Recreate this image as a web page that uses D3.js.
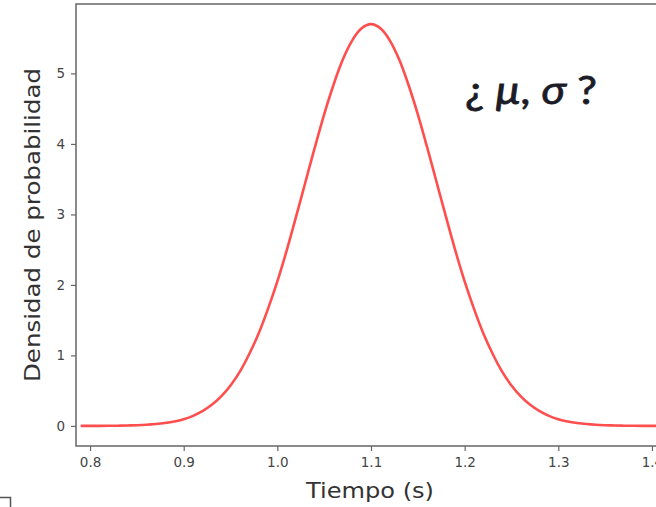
<!DOCTYPE html>
<html>
<head>
<meta charset="utf-8">
<script src="https://cdn.jsdelivr.net/npm/d3@7"></script>
<style>
  body { margin: 0; background: #fff; }
  svg { display: block; }
</style>
</head>
<body>
<div id="chart"></div>
<script>
// Valores (tiempo en s, densidad)
var tiempos = [0.79, 0.80, 0.81, 0.82, 0.83, 0.84, 0.85, 0.86, 0.87, 0.88, 0.89,
               0.90, 0.91, 0.92, 0.93, 0.94, 0.95, 0.96, 0.97, 0.98, 0.99,
               1.00, 1.01, 1.02, 1.03, 1.04, 1.05, 1.06, 1.07, 1.08, 1.09,
               1.10, 1.11, 1.12, 1.13, 1.14, 1.15, 1.16, 1.17, 1.18, 1.19,
               1.20, 1.21, 1.22, 1.23, 1.24, 1.25, 1.26, 1.27, 1.28, 1.29,
               1.30, 1.31, 1.32, 1.33, 1.34, 1.35, 1.36, 1.37, 1.38, 1.39,
               1.40, 1.41, 1.42];
var densidad = [0.0003, 0.0006, 0.001, 0.002, 0.003, 0.006, 0.010, 0.016, 0.026, 0.041, 0.063,
                0.096, 0.143, 0.209, 0.299, 0.418, 0.574, 0.77, 1.02, 1.31, 1.66,
                2.05, 2.49, 2.97, 3.46, 3.95, 4.42, 4.84, 5.20, 5.47, 5.64,
                5.70, 5.64, 5.47, 5.20, 4.84, 4.42, 3.95, 3.46, 2.97, 2.49,
                2.05, 1.66, 1.31, 1.02, 0.77, 0.574, 0.418, 0.299, 0.209, 0.143,
                0.096, 0.063, 0.041, 0.026, 0.016, 0.010, 0.006, 0.003, 0.002, 0.001,
                0.0006, 0.0003, 0.0002];
var xTicks = [0.8, 0.9, 1.0, 1.1, 1.2, 1.3, 1.4];
var yTicks = [0, 1, 2, 3, 4, 5];

var width = 656;
var height = 507;

var svg = d3.select("#chart")
    .append("svg")
    .attr("width", width)
    .attr("height", height);

// Escalas
var x = d3.scaleLinear()
    .domain([0.785, 1.415])
    .range([76, 666]);

var y = d3.scaleLinear()
    .domain([-0.285, 5.985])
    .range([446, 4]);

// Recorte al area de los ejes
svg.append("clipPath")
    .attr("id", "clip")
    .append("rect")
    .attr("x", 76)
    .attr("y", 4)
    .attr("width", 590)
    .attr("height", 442);

var data = tiempos.map(function(t, i) { return { t: t, d: densidad[i] }; });

var line = d3.line()
    .x(function(d) { return x(d.t); })
    .y(function(d) { return y(d.d); })
    .curve(d3.curveMonotoneX);

svg.append("path")
    .datum(data)
    .attr("clip-path", "url(#clip)")
    .attr("d", line)
    .attr("fill", "none")
    .attr("stroke", "#ff3b3b")
    .attr("stroke-opacity", 0.9)
    .attr("stroke-width", 2.6);

// Ejes
var xAxis = svg.append("g")
    .attr("transform", "translate(0,446)")
    .call(d3.axisBottom(x).tickValues(xTicks).tickFormat(d3.format(".1f")).tickSize(5).tickSizeOuter(0));

var yAxis = svg.append("g")
    .attr("transform", "translate(76,0)")
    .call(d3.axisLeft(y).tickValues(yTicks).tickFormat(d3.format("d")).tickSize(5).tickSizeOuter(0));

[xAxis, yAxis].forEach(function(ax) {
    ax.select(".domain").remove();
    ax.selectAll(".tick line").attr("stroke", "#666").attr("stroke-width", 1.2);
    ax.selectAll(".tick text")
        .attr("fill", "#444")
        .style("font-family", "'DejaVu Sans', sans-serif")
        .style("font-size", "13.5px");
});
xAxis.selectAll(".tick text").attr("y", 11).attr("dy", "0.71em");
yAxis.selectAll(".tick text").attr("x", -11);

// Marco
svg.append("rect")
    .attr("x", 76)
    .attr("y", 4)
    .attr("width", 600)
    .attr("height", 442)
    .attr("fill", "none")
    .attr("stroke", "#666")
    .attr("stroke-width", 1.5);

// Etiquetas
svg.append("text")
    .attr("x", 370)
    .attr("y", 498)
    .attr("text-anchor", "middle")
    .attr("textLength", 128)
    .attr("lengthAdjust", "spacingAndGlyphs")
    .style("font-family", "'DejaVu Sans', sans-serif")
    .style("font-size", "22px")
    .attr("fill", "#333")
    .text("Tiempo (s)");

svg.append("text")
    .attr("transform", "translate(40,225) rotate(-90)")
    .attr("text-anchor", "middle")
    .attr("textLength", 314)
    .attr("lengthAdjust", "spacingAndGlyphs")
    .style("font-family", "'DejaVu Sans', sans-serif")
    .style("font-size", "22px")
    .attr("fill", "#333")
    .text("Densidad de probabilidad");

// Anotacion
var nota = svg.append("text")
    .attr("x", 465)
    .attr("y", 104)
    .attr("textLength", 132)
    .attr("lengthAdjust", "spacingAndGlyphs")
    .style("font-family", "Lato, 'Open Sans', sans-serif")
    .style("font-size", "39px")
    .attr("fill", "#1c1c28")
    .attr("stroke", "#1c1c28")
    .attr("stroke-width", 0.8);
nota.append("tspan").text("¿ ");
nota.append("tspan").style("font-style", "italic").text("μ");
nota.append("tspan").text(", ");
nota.append("tspan").style("font-style", "italic").text("σ");
nota.append("tspan").text(" ?");

// marca en la esquina inferior izquierda
svg.append("path")
    .attr("d", "M0,497.5 H10.5 V507")
    .attr("fill", "none")
    .attr("stroke", "#555")
    .attr("stroke-width", 1.5);
</script>
</body>
</html>
